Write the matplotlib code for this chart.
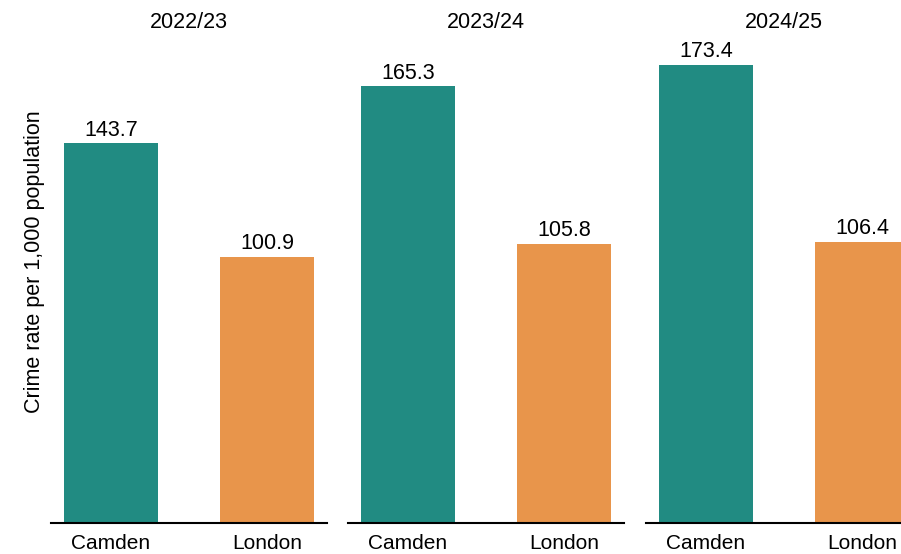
import matplotlib.pyplot as plt
import numpy as np

plt.rcParams['font.family'] = ['Liberation Sans', 'DejaVu Sans']

years = ['2022/23', '2023/24', '2024/25']
areas = ['Camden', 'London']
camden = [143.7, 165.3, 173.4]
london = [100.9, 105.8, 106.4]
colors = ['#218B82', '#E8954B']

W, H = 901, 554
fig = plt.figure(figsize=(W / 100, H / 100), dpi=100)

lefts = [51, 348, 646]
pw = 276
top, bottom = 40, 523

for i, yr in enumerate(years):
    ax = fig.add_axes([lefts[i] / W, (H - bottom) / H, pw / W, (bottom - top) / H])
    vals = [camden[i], london[i]]
    x = np.arange(2)
    bars = ax.bar(x, vals, width=0.6, color=colors)
    for b, v in zip(bars, vals):
        ax.annotate(f'{v:.1f}', (b.get_x() + b.get_width() / 2, v),
                    xytext=(0, 2), textcoords='offset points',
                    ha='center', va='bottom', fontsize=15.5)
    ax.set_xlim(-0.385, 1.385)
    ax.set_ylim(0, (bottom - top) / 2.641)
    ax.set_xticks(x)
    ax.set_xticklabels(areas, fontsize=15)
    ax.tick_params(axis='x', length=0, pad=8)
    ax.set_yticks([])
    for s in ['top', 'right', 'left']:
        ax.spines[s].set_visible(False)
    ax.spines['bottom'].set_linewidth(1.5)
    ax.set_title(yr, fontsize=15.5, pad=9)
    if i == 0:
        ax.set_ylabel('Crime rate per 1,000 population', fontsize=15.5)
        ax.yaxis.set_label_coords(-0.022, 0.542)

fig.savefig('out.png', dpi=100)
